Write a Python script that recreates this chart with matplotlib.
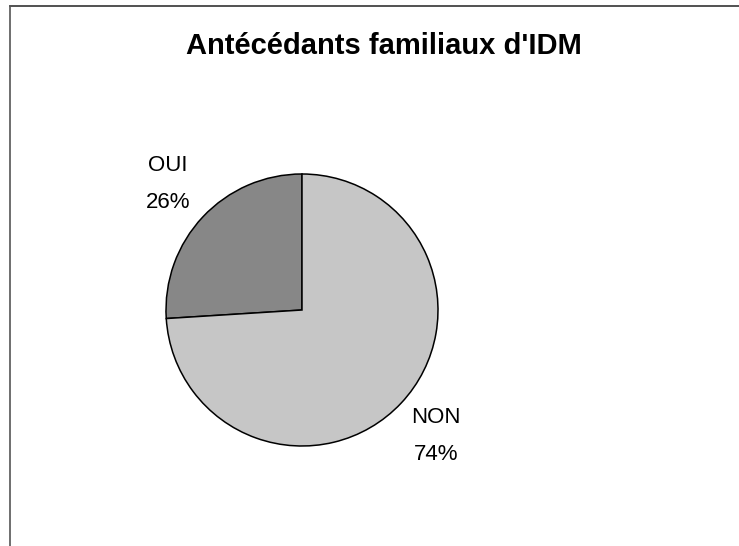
import matplotlib
matplotlib.use("Agg")
import matplotlib.pyplot as plt
from matplotlib.lines import Line2D

categories = ["OUI", "NON"]
values = [26, 74]
colors = ["#878787", "#c6c6c6"]
title = "Antécédants familiaux d'IDM"

W, H = 739, 546
fig = plt.figure(figsize=(W / 100, H / 100), dpi=100)
fig.patch.set_facecolor("white")

cx, cy, r = 302, 310, 136
half = 220
ax = fig.add_axes([(cx - half) / W, (H - cy - half) / H, 2 * half / W, 2 * half / H])
lim = half / r

labels = [f"{c}\n{v}%" for c, v in zip(categories, values)]
wedges, texts = ax.pie(values, labels=labels, colors=colors, startangle=90,
                       counterclock=True, radius=1, labeldistance=1.35,
                       wedgeprops=dict(edgecolor="black", linewidth=1.1),
                       textprops=dict(fontsize=16, family="Liberation Sans",
                                      linespacing=2.0))
ax.set_xlim(-lim, lim)
ax.set_ylim(-lim, lim)
ax.set_aspect("equal")
ax.axis("off")
for t in texts:
    t.set_ha("center")
    t.set_va("center")

fig.text(384 / W, 1 - 54 / H, title, ha="center", va="baseline",
         fontsize=21, fontweight="bold", family="Liberation Sans")

fig.add_artist(Line2D([10 / W, 1], [1 - 6 / H, 1 - 6 / H], color="#333333", lw=1.2))
fig.add_artist(Line2D([10 / W, 10 / W], [0, 1 - 6 / H], color="#555555", lw=1.2))

fig.savefig("out.png", dpi=100)
